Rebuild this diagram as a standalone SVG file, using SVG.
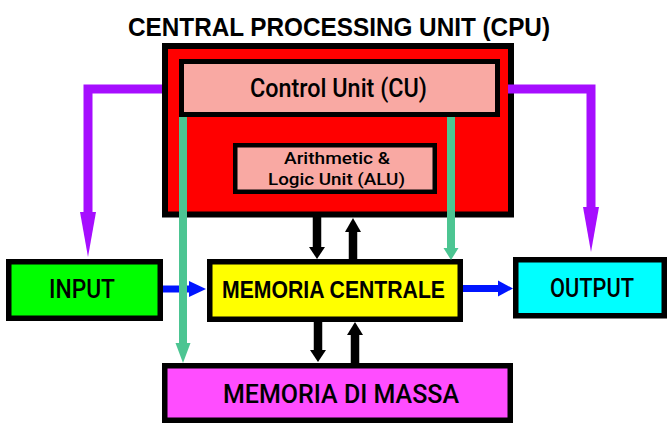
<svg xmlns="http://www.w3.org/2000/svg" width="667" height="423" viewBox="0 0 667 423">
<style>
.box{stroke:#000;stroke-linejoin:miter}
.din{font-family:Roboto,"Liberation Sans",sans-serif;font-weight:500;fill:#000;text-anchor:middle}
.bold{font-family:"Liberation Sans",Arial,sans-serif;font-weight:bold;fill:#000;text-anchor:middle}
.purple{stroke:#A60EFF;fill:none;stroke-width:9;stroke-linejoin:miter}
.purpleH{fill:#A60EFF}
.teal{stroke:#4CC592;fill:none;stroke-width:8}
.tealH{fill:#4CC592}
.blue{stroke:#0015FF;fill:none;stroke-width:7}
.blueH{fill:#0015FF}
.blk{stroke:#000;fill:none;stroke-width:8.5}
.blkH{fill:#000}
</style>
<rect width="667" height="423" fill="#fff"/>
<g id="title">
<text class="bold" x="339" y="35.5" font-size="26.5" textLength="422" lengthAdjust="spacingAndGlyphs">CENTRAL PROCESSING UNIT (CPU)</text>
</g>
<g id="cpu">
<rect class="box" x="165" y="46" width="346" height="168.5" fill="#FF0000" stroke-width="6"/>
</g>
<g id="cu">
<rect class="box" x="181.5" y="61.5" width="316" height="53" fill="#F9A9A3" stroke-width="5"/>
<text class="din" x="338.5" y="97" font-size="25" textLength="177" lengthAdjust="spacingAndGlyphs">Control Unit (CU)</text>
</g>
<g id="alu">
<rect class="box" x="235.25" y="145.25" width="199.5" height="46.5" fill="#F9A9A3" stroke-width="4.5"/>
<text class="din" x="337" y="164" font-size="16" textLength="106" lengthAdjust="spacingAndGlyphs">Arithmetic &amp;</text>
<text class="din" x="336.5" y="185" font-size="16" textLength="137" lengthAdjust="spacingAndGlyphs">Logic Unit (ALU)</text>
</g>
<g id="input">
<rect class="box" x="8.75" y="261.75" width="151.5" height="56.5" fill="#00FF00" stroke-width="5.5"/>
<text class="din" x="82" y="298" font-size="25" textLength="66" lengthAdjust="spacingAndGlyphs">INPUT</text>
</g>
<g id="memoria-centrale">
<rect class="box" x="209.75" y="261.75" width="250.5" height="57.5" fill="#FFFF00" stroke-width="5.5"/>
<text class="bold" x="333.5" y="297.5" font-size="23" textLength="223" lengthAdjust="spacingAndGlyphs">MEMORIA CENTRALE</text>
</g>
<g id="output">
<rect class="box" x="515.75" y="259.75" width="148.5" height="56" fill="#00FFFF" stroke-width="5.5"/>
<text class="din" x="592" y="297" font-size="26" textLength="84" lengthAdjust="spacingAndGlyphs">OUTPUT</text>
</g>
<g id="memoria-di-massa">
<rect class="box" x="164.75" y="365.75" width="345.5" height="54.5" fill="#FF4DFF" stroke-width="5.5"/>
<text class="din" x="341" y="403" font-size="25" textLength="236" lengthAdjust="spacingAndGlyphs">MEMORIA DI MASSA</text>
</g>
<g id="connectors">
<path class="purple" d="M162,89 H88 V212"/>
<polygon class="purpleH" points="80,212 96,212 88,257"/>
<path class="purple" d="M508,89 H591 V207"/>
<polygon class="purpleH" points="583,207 599,207 591,252"/>
<path class="blue" d="M163,289 H190"/>
<polygon class="blueH" points="189,281 189,297 206,289"/>
<path class="blue" d="M463,288.5 H499"/>
<polygon class="blueH" points="498,280.5 498,296.5 513,288.5"/>
<path class="blk" d="M317,217 V248"/>
<polygon class="blkH" points="309,247 325,247 317,259"/>
<path class="blk" d="M353,259 V231"/>
<polygon class="blkH" points="345,232 361,232 353,218"/>
<path class="blk" d="M318,322 V351"/>
<polygon class="blkH" points="310,350 326,350 318,362"/>
<path class="blk" d="M355,363 V334"/>
<polygon class="blkH" points="347,335 363,335 355,322"/>
<path class="teal" d="M183,117 V344"/>
<polygon class="tealH" points="175.5,343 190.5,343 183,363"/>
<path class="teal" d="M451,117 V249"/>
<polygon class="tealH" points="443.5,248 458.5,248 451,260"/>
</g>
</svg>
